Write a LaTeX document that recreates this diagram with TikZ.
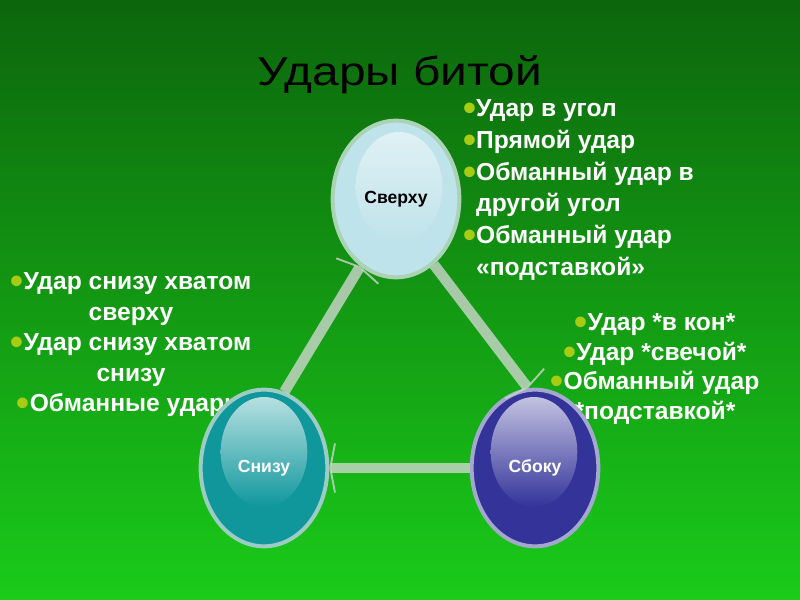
\documentclass[tikz,border=0pt]{standalone}
\usepackage{fontspec}
\setmainfont{Liberation Sans}
\usepackage{tikz}
\usetikzlibrary{arrows.meta, shapes.geometric}
\definecolor{bgtop}{HTML}{0C660C}
\definecolor{bgmid}{HTML}{04A304}
\definecolor{bgbot}{HTML}{1ACB1A}
\definecolor{bulletgreen}{HTML}{A8CC14}
\definecolor{topfill}{HTML}{BFE3EA}
\definecolor{topring}{HTML}{A9D3B4}
\definecolor{leftfill}{HTML}{0F979C}
\definecolor{leftring}{HTML}{9CCCC4}
\definecolor{rightfill}{HTML}{33339A}
\definecolor{rightring}{HTML}{A3A9CC}
\definecolor{linkgray}{HTML}{CDD6CD}
\newcommand{\bul}{{\color{bulletgreen}\smash{\raisebox{-.16em}{\scalebox{1.5}{\textbullet}}}}}
\tikzset{
  bubble/.style={
    ellipse,
    line width=3.4pt,
    minimum width=3.8cm,
    minimum height=4.7cm
  },
  gloss/.style={
    ellipse,
    inner sep=0pt,
    minimum width=2.6cm,
    minimum height=3.3cm
  },
  bubble text/.style={font=\fontsize{15}{17}\selectfont\bfseries},
  list/.style={
    text=white, inner sep=0pt,
    font=\fontsize{21}{27}\selectfont\bfseries
  },
  link/.style={
    draw=linkgray, line width=9pt, opacity=.8,
    -{Straight Barb[length=4pt, width=42pt, line width=1.6pt]}
  }
}

\begin{document}
\begin{tikzpicture}[x=0.03cm, y=-0.03cm]
  % Background
  \shade[top color=bgtop, middle color=bgmid, bottom color=bgbot] (0,0) rectangle (800,600);
  \useasboundingbox (0,0) rectangle (800,600);

  % Title
  \node[font=\fontsize{40}{44}\selectfont, inner sep=0pt] (title) at (400, 75)
    {\scalebox{1.02}[0.86]{Удары битой}};

  % Lists
  \node[list, align=left, anchor=west] (toplist) at (463, 190)
    {\bul Удар в угол\\ \bul Прямой удар\\ \bul Обманный удар в\\
     \hphantom{\bul}другой угол\\ \bul Обманный удар\\ \hphantom{\bul}«подставкой»};
  \node[list, align=center, font=\fontsize{21}{26}\selectfont\bfseries] (leftlist) at (131, 345)
    {\bul Удар снизу хватом\\ сверху\\ \bul Удар снизу хватом\\ снизу\\ \bul Обманные удары};
  \node[list, align=center, font=\fontsize{21}{25.5}\selectfont\bfseries] (rightlist) at (655, 369)
    {\bul Удар *в кон*\\ \bul Удар *свечой*\\ \bul Обманный удар\\ *подставкой*};

  % Top
  \node[bubble, draw=topring, fill=topfill] (sv) at (396, 199) {};
  \node[gloss, top color=white!50!topfill, bottom color=topfill] (svgloss) at (399, 187) {};
  \node[bubble text, text=black] (svtext) at (396, 199) {Сверху};

  % Bottom left
  \node[bubble, draw=leftring, fill=leftfill] (sn) at (264, 468) {};
  \node[gloss, top color=white!70!leftfill, bottom color=leftfill] (sngloss) at (264, 452) {};
  \node[bubble text, text=white] (sntext) at (264, 468) {Снизу};

  % Bottom right
  \node[bubble, draw=rightring, fill=rightfill] (sb) at (535, 468) {};
  \node[gloss, top color=white!70!rightfill, bottom color=rightfill] (sbgloss) at (534, 452) {};
  \node[bubble text, text=white] (sbtext) at (535, 468) {Сбоку};

  % Cycle
  \draw[link] (sn.75) -- (sv.242);
  \draw[link] (sv.300) -- (sb.95);
  \draw[link] (sb.west) -- (sn.east);
\end{tikzpicture}
\end{document}
